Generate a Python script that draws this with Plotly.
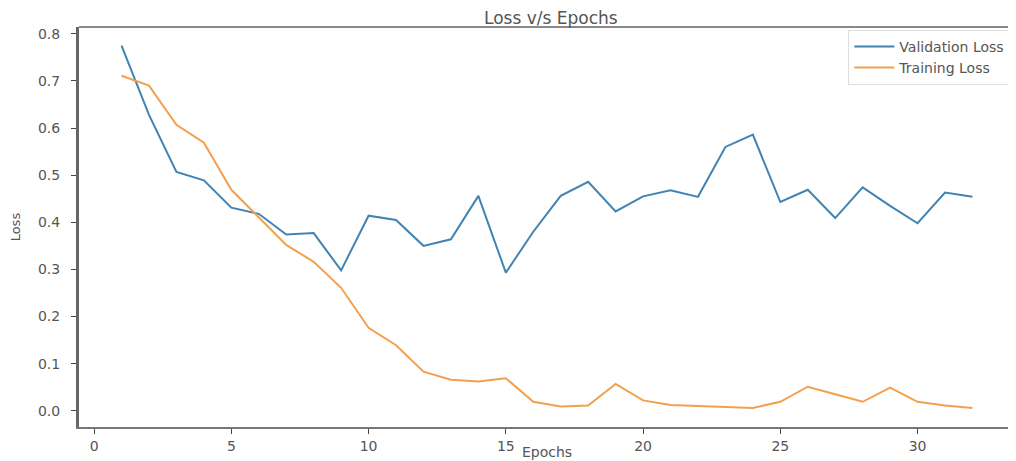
import plotly.graph_objects as go

epochs = list(range(1, 33))
validation_loss = [0.775, 0.628, 0.507, 0.489, 0.431, 0.418, 0.374, 0.377, 0.298, 0.414,
                   0.405, 0.350, 0.364, 0.456, 0.293, 0.380, 0.456, 0.486, 0.423, 0.455,
                   0.468, 0.454, 0.560, 0.586, 0.443, 0.469, 0.409, 0.474, 0.435, 0.398,
                   0.463, 0.454]
training_loss = [0.711, 0.690, 0.607, 0.569, 0.469, 0.410, 0.352, 0.316, 0.261, 0.176,
                 0.139, 0.083, 0.066, 0.062, 0.069, 0.019, 0.009, 0.011, 0.057, 0.022,
                 0.012, 0.010, 0.008, 0.006, 0.019, 0.051, 0.035, 0.019, 0.049, 0.019,
                 0.011, 0.006]
x_ticks = [0, 5, 10, 15, 20, 25, 30]
y_ticks = [0.0, 0.1, 0.2, 0.3, 0.4, 0.5, 0.6, 0.7, 0.8]

FONT = "DejaVu Sans, sans-serif"

fig = go.Figure()
fig.add_trace(go.Scatter(x=epochs, y=validation_loss, mode="lines", name="Validation Loss",
                         line=dict(color="#3f84b4", width=2)))
fig.add_trace(go.Scatter(x=epochs, y=training_loss, mode="lines", name="Training Loss",
                         line=dict(color="#f3a04e", width=2)))

# page has an 8px body margin, so the figure is sized/offset to compensate
fig.update_layout(
    width=1008, height=453,
    margin=dict(l=71, r=1, t=19, b=34, autoexpand=False),
    paper_bgcolor="white", plot_bgcolor="white",
    font=dict(family=FONT, color="#555555", size=13),
    title=dict(text="Loss v/s Epochs", x=0.5385, xanchor="center", y=0.978, yanchor="middle",
               font=dict(size=17, color="#555555", family=FONT)),
    legend=dict(x=0.995, y=0.993, xanchor="right", yanchor="top",
                bordercolor="#dddddd", borderwidth=1, bgcolor="rgba(255,255,255,0.8)",
                font=dict(size=14, color="#555555", family=FONT), tracegroupgap=0,
                itemwidth=40),
    showlegend=True,
)
fig.update_xaxes(range=[-0.55, 33.55], tickvals=x_ticks, ticks="outside", ticklen=5,
                 tickcolor="#444444", showgrid=False, zeroline=False, automargin=False,
                 showline=True, linecolor="#777777", linewidth=2,
                 tickfont=dict(size=14, family=FONT, color="#555555"))
fig.update_yaxes(range=[-0.0345, 0.8145], tickvals=y_ticks, tickformat=".1f",
                 ticks="outside", ticklen=5, tickcolor="#444444", showgrid=False,
                 zeroline=False, showline=True, linecolor="#666666", linewidth=3,
                 automargin=False, ticklabelstandoff=8,
                 tickfont=dict(size=14, family=FONT, color="#555555"))
fig.add_annotation(text="Epochs", xref="paper", yref="paper", x=0.5, y=-0.0625,
                   xanchor="center", yanchor="middle", showarrow=False,
                   font=dict(size=14, family=FONT, color="#555555"))
fig.add_annotation(text="Loss", xref="paper", yref="paper", x=-0.068, y=0.5,
                   xanchor="center", yanchor="middle", textangle=-90, showarrow=False,
                   font=dict(size=13, family=FONT, color="#555555"))
fig.add_shape(type="line", xref="paper", yref="paper", x0=0, x1=1, y0=1, y1=1,
              line=dict(color="#888888", width=2))
fig.add_shape(type="line", xref="paper", yref="paper", x0=1, x1=1, y0=0, y1=1,
              line=dict(color="#dddddd", width=1))

fig.write_html("out.html")
